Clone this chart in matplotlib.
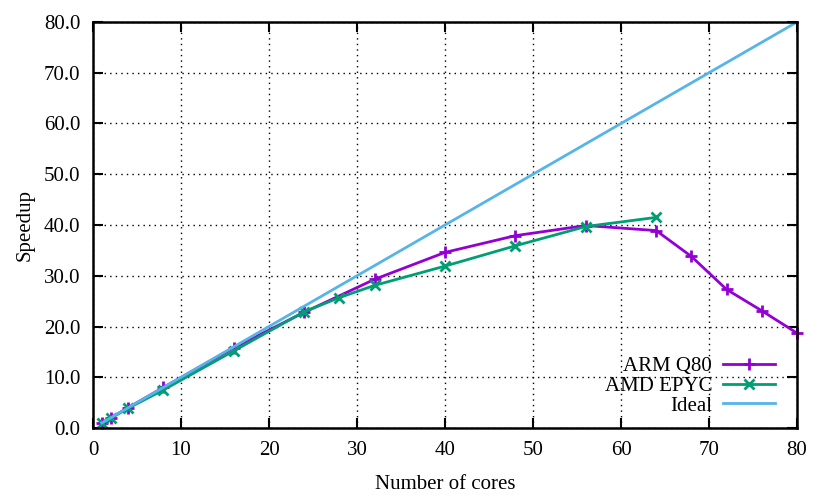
import matplotlib.pyplot as plt
import numpy as np

plt.rcParams['font.family'] = ['Liberation Serif', 'DejaVu Serif']

# data
arm_cores = [1, 2, 4, 8, 16, 24, 32, 40, 48, 56, 64, 68, 72, 76, 80]
arm_speedup = [1.0, 2.0, 4.0, 8.0, 15.8, 22.8, 29.3, 34.6, 37.9, 39.9, 38.9, 33.8, 27.3, 23.1, 18.7]

amd_cores = [1, 2, 4, 8, 16, 24, 28, 32, 40, 48, 56, 64]
amd_speedup = [1.0, 1.9, 3.9, 7.5, 15.2, 22.9, 25.7, 28.1, 31.9, 35.9, 39.7, 41.5]

ideal_cores = [1, 80]
ideal_speedup = [1, 80]

fig = plt.figure(figsize=(8.3, 4.98), dpi=100)
ax = fig.add_axes([93 / 830, 1 - 428 / 498, (797 - 93) / 830, (428 - 22) / 498])

ax.plot(arm_cores, arm_speedup, color='#9400d3', lw=2, marker='+', ms=9, mew=2,
        label='ARM Q80', clip_on=False)
ax.plot(amd_cores, amd_speedup, color='#009e73', lw=2, marker='x', ms=7, mew=2,
        label='AMD EPYC')
ax.plot(ideal_cores, ideal_speedup, color='#56b4e9', lw=2, label='Ideal')

ax.set_xlim(0, 80)
ax.set_ylim(0, 80)
ax.set_xticks(np.arange(0, 81, 10))
ax.set_yticks(np.arange(0, 81, 10))
ax.set_yticklabels(['%.1f' % v for v in np.arange(0, 81, 10)])
ax.tick_params(direction='in', length=7, width=1.5, top=True, right=True, labelsize=15)
ax.tick_params(axis='x', pad=9)
ax.tick_params(axis='y', pad=9)
ax.grid(True, color='black', linestyle=(0, (1, 3)), linewidth=1)
for s in ax.spines.values():
    s.set_linewidth(1.8)

ax.set_xlabel('Number of cores', fontsize=15, labelpad=11)
ax.set_ylabel('Speedup', fontsize=15, labelpad=7)

leg = ax.legend(loc='lower right', bbox_to_anchor=(0.98, 0.01), markerfirst=False,
                frameon=False, fontsize=15, handlelength=2.5, handletextpad=0.5,
                labelspacing=0.0, borderaxespad=0)

fig.savefig('out.png', dpi=100)
